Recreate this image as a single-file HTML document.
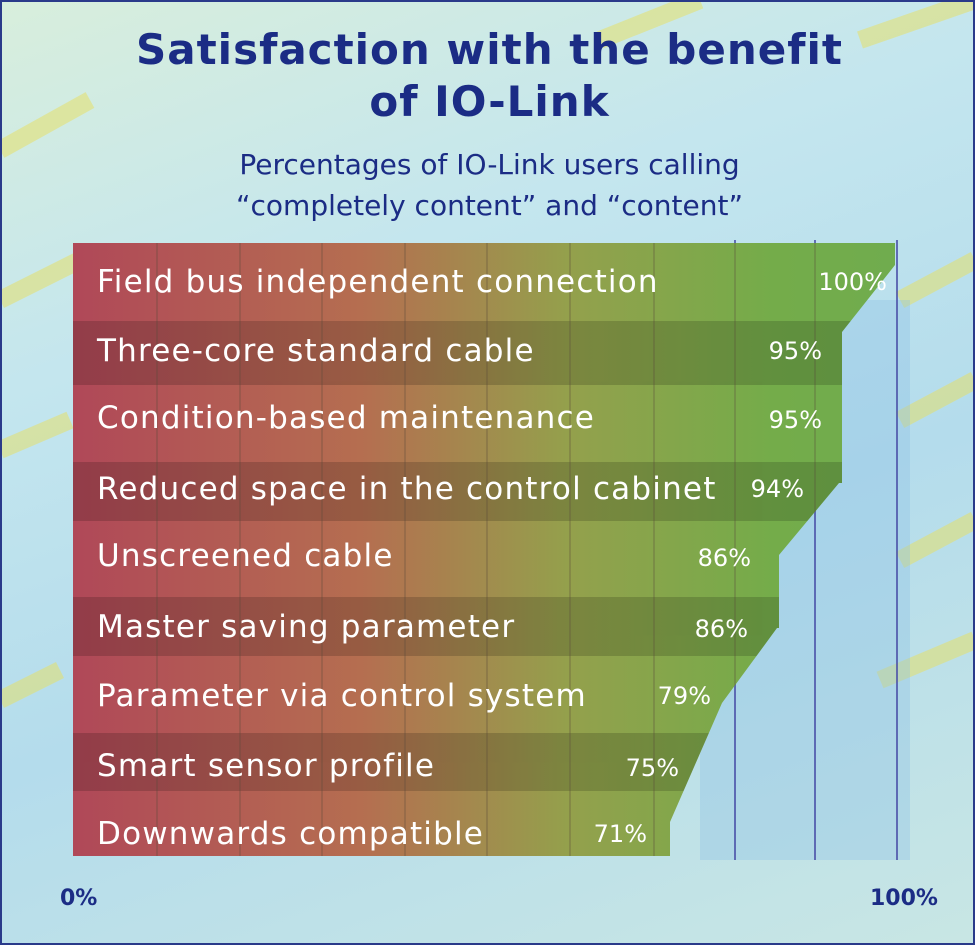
<!DOCTYPE html>
<html><head><style>
body{margin:0;}
.w{position:relative;width:975px;height:945px;overflow:hidden;background:linear-gradient(160deg,#d8eedc 0%,#c4e6ee 30%,#b4dcec 60%,#c8e6e4 100%);box-sizing:border-box;border:2px solid #2a3a8a;font-family:"DejaVu Sans","Liberation Sans",sans-serif;}
.t{position:absolute;left:0;width:975px;text-align:center;color:#1b2c85;}
</style></head><body><div class="w">
<svg width="975" height="945" style="position:absolute;left:-2px;top:-2px">
<defs>
<linearGradient id="g" x1="73" x2="897" gradientUnits="userSpaceOnUse">
<stop offset="0" stop-color="#b04858"/><stop offset="0.35" stop-color="#b56e50"/><stop offset="0.6" stop-color="#94a04c"/><stop offset="0.85" stop-color="#74ac4a"/><stop offset="1" stop-color="#70ac4e"/>
</linearGradient>
<clipPath id="c"><polygon points="73,243 895,243 895,265 842,332 842,483 839,483 779,555 779,628 777,628 722,703 670,822 670,856 73,856"/></clipPath>
</defs>
<g opacity="0.5">
<path d="M0,150 L90,100 M0,300 L80,260 M0,450 L70,420 M0,700 L60,670 M900,300 L975,260 M900,420 L975,380 M900,560 L975,520 M880,680 L975,640 M600,40 L700,0 M860,40 L975,0" stroke="#e8e060" stroke-width="18"/>
</g>
<rect x="700" y="300" width="210" height="560" fill="#8cc0e4" opacity="0.35"/>
<g stroke="#4a50a8" stroke-width="2" opacity="0.8"><line x1="735" y1="240" x2="735" y2="860"/><line x1="815" y1="240" x2="815" y2="860"/><line x1="897" y1="240" x2="897" y2="860"/></g>
<g clip-path="url(#c)">
<rect x="73" y="243" width="830" height="615" fill="url(#g)"/>
<g fill="#000" opacity="0.16"><rect x="73" y="321" width="830" height="64"/><rect x="73" y="462" width="830" height="59"/><rect x="73" y="597" width="830" height="59"/><rect x="73" y="733" width="830" height="58"/></g>
<g stroke="#5a4a3a" stroke-width="1.5" opacity="0.35"><line x1="157" y1="243" x2="157" y2="858"/><line x1="240" y1="243" x2="240" y2="858"/><line x1="322" y1="243" x2="322" y2="858"/><line x1="405" y1="243" x2="405" y2="858"/><line x1="487" y1="243" x2="487" y2="858"/><line x1="570" y1="243" x2="570" y2="858"/><line x1="654" y1="243" x2="654" y2="858"/><line x1="735" y1="243" x2="735" y2="858"/><line x1="815" y1="243" x2="815" y2="858"/></g>
</g>
<g fill="#fff" font-family="DejaVu Sans, Liberation Sans, sans-serif" font-size="31" letter-spacing="1.2">
<text x="97" y="292">Field bus independent connection</text>
<text x="97" y="361">Three-core standard cable</text>
<text x="97" y="428">Condition-based maintenance</text>
<text x="97" y="499">Reduced space in the control cabinet</text>
<text x="97" y="566">Unscreened cable</text>
<text x="97" y="637">Master saving parameter</text>
<text x="97" y="706">Parameter via control system</text>
<text x="97" y="776">Smart sensor profile</text>
<text x="97" y="844">Downwards compatible</text>
</g>
<g fill="#fff" font-family="DejaVu Sans, Liberation Sans, sans-serif" font-size="24" text-anchor="end">
<text x="887" y="290">100%</text><text x="822" y="359">95%</text><text x="822" y="428">95%</text><text x="804" y="497">94%</text><text x="751" y="566">86%</text><text x="748" y="637">86%</text><text x="711" y="704">79%</text><text x="679" y="776">75%</text><text x="647" y="842">71%</text>
</g>
<g fill="#1b2c85" font-family="DejaVu Sans, Liberation Sans, sans-serif" font-size="22" font-weight="bold">
<text x="60" y="905">0%</text><text x="870" y="905">100%</text>
</g>
</svg>
<div class="t" style="top:22px;font-size:42px;font-weight:bold;line-height:52px;letter-spacing:1px;">Satisfaction with the benefit<br>of IO-Link</div>
<div class="t" style="top:142px;font-size:28px;line-height:41px;">Percentages of IO-Link users calling<br>“completely content” and “content”</div>
</div></body></html>
